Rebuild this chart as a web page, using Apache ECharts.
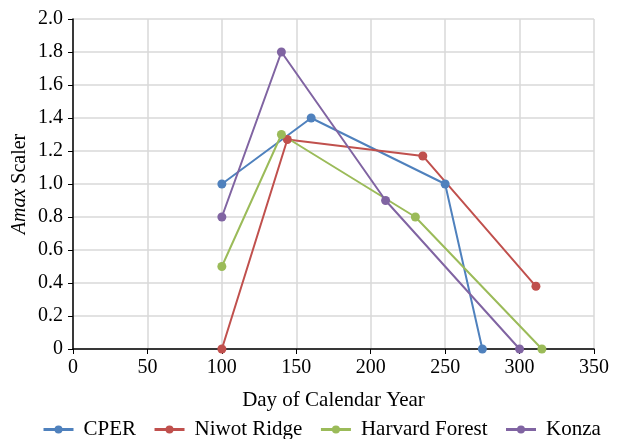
<!DOCTYPE html>
<html><head><meta charset="utf-8">
<script src="https://cdn.jsdelivr.net/npm/echarts@6/dist/echarts.min.js"></script>
<style>html,body{margin:0;padding:0;background:#fff}#c{width:621px;height:439px}</style>
</head><body><div id="c"></div>
<script>
const seriesNames = ['CPER', 'Niwot Ridge', 'Harvard Forest', 'Konza'];
const cperData = [[100, 1.0], [160, 1.4], [250, 1.0], [275, 0]];
const niwotData = [[100, 0], [144, 1.27], [235, 1.17], [311, 0.38]];
const harvardData = [[100, 0.5], [140, 1.3], [230, 0.8], [315, 0]];
const konzaData = [[100, 0.8], [140, 1.8], [210, 0.9], [300, 0]];
const colors = ['#4F81BD', '#C0504D', '#9BBB59', '#8064A2'];
const allData = [cperData, niwotData, harvardData, konzaData];
const font = 'Liberation Serif';

const chart = echarts.init(document.getElementById('c'));
chart.setOption({
  animation: false,
  textStyle: { fontFamily: font },
  grid: { left: 73, right: 27, top: 19, bottom: 90, containLabel: false, outerBoundsMode: 'none' },
  xAxis: {
    type: 'value', min: 0, max: 350, interval: 50,
    name: 'Day of Calendar Year', nameLocation: 'middle', nameGap: 41,
    nameTextStyle: { fontFamily: font, fontSize: 21, color: '#000' },
    axisLine: { show: true, lineStyle: { color: '#000', width: 1.5 } },
    axisTick: { show: true, length: 5, lineStyle: { color: '#000' } },
    axisLabel: { fontFamily: font, fontSize: 20, color: '#000', margin: 9 },
    splitLine: { show: true, lineStyle: { color: '#d9d9d9', width: 1.5 } }
  },
  yAxis: {
    type: 'value', min: 0, max: 2.0, interval: 0.2,
    name: '{i|Amax} Scaler', nameLocation: 'middle', nameGap: 43, nameRotate: 90,
    nameMoveOverlap: false,
    nameTextStyle: { fontFamily: font, fontSize: 20, color: '#000',
      rich: { i: { fontFamily: font, fontSize: 20, fontStyle: 'italic', color: '#000' } } },
    axisLine: { show: true, lineStyle: { color: '#000', width: 1.5 } },
    axisTick: { show: true, length: 5, lineStyle: { color: '#000' } },
    axisLabel: { fontFamily: font, fontSize: 20, color: '#000', margin: 10,
      formatter: v => v === 0 ? '0' : v.toFixed(1) },
    splitLine: { show: true, lineStyle: { color: '#d9d9d9', width: 1.5 } }
  },
  legend: {
    top: 414, left: 37, itemGap: 17, itemWidth: 30, itemHeight: 10,
    textStyle: { fontFamily: font, fontSize: 21, color: '#000', padding: [0, 0, 0, 5] },
    data: seriesNames.map(n => ({ name: n, lineStyle: { width: 3 } }))
  },
  series: seriesNames.map((n, i) => ({
    name: n, type: 'line', data: allData[i],
    symbol: 'circle', symbolSize: 9,
    lineStyle: { color: colors[i], width: 2 },
    itemStyle: { color: colors[i] }
  }))
});
</script></body></html>
